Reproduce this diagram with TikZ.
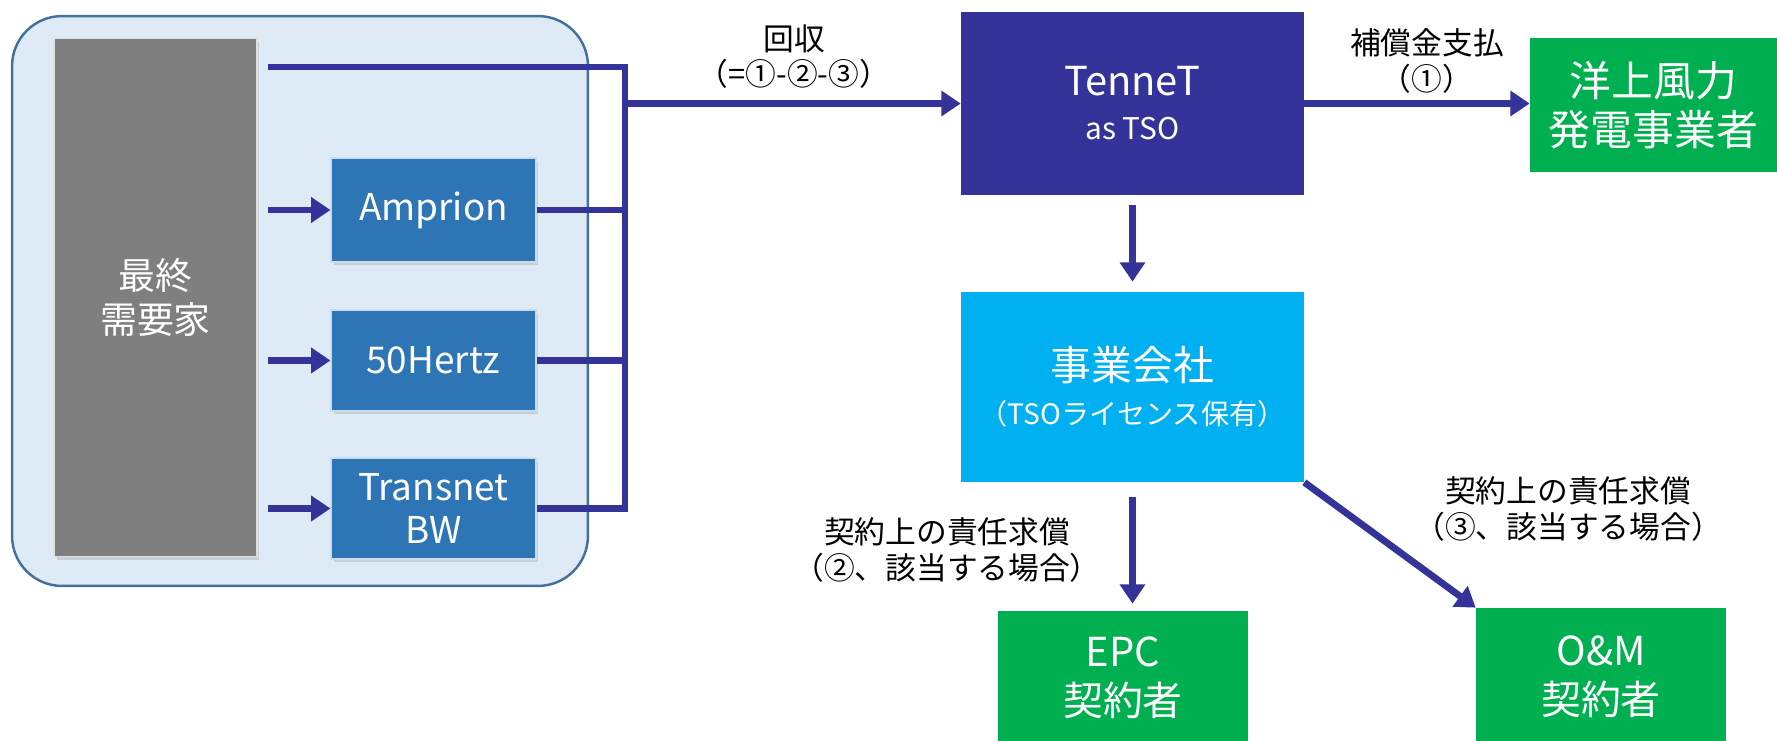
\documentclass[tikz,border=0pt]{standalone}
\usepackage{fontspec}
\setmainfont{Noto Sans CJK JP}
\usepackage{tikz}
\usetikzlibrary{positioning,arrows.meta,shadows,calc}

\definecolor{framefill}{RGB}{222,235,247}
\definecolor{frameline}{RGB}{65,113,156}
\definecolor{tsoblue}{RGB}{46,117,182}
\definecolor{flowblue}{RGB}{51,51,153}
\definecolor{spvcyan}{RGB}{0,176,240}
\definecolor{contgreen}{RGB}{0,176,80}
\definecolor{demandgray}{RGB}{127,127,127}

\tikzset{
  box/.style={fill=#1, text=white, align=center, inner sep=0pt},
  shadowbox/.style={box=#1, draw=white!75!#1, line width=0.6pt,
    drop shadow={shadow xshift=0.05cm, shadow yshift=-0.07cm, opacity=0.25}},
  flow/.style={draw=flowblue, line width=3.9pt},
  flowarr/.style={flow, -{Triangle[length=11pt,width=14pt]}},
  lbl/.style={align=center, font=\fontsize{17.5}{20}\selectfont},
}

\begin{document}
\begin{tikzpicture}[x=0.02cm,y=-0.02cm]
\useasboundingbox (0,0) rectangle (1777,740);

\node[draw=frameline, line width=1.4pt, fill=framefill, rounded corners=1cm,
  minimum width=11.52cm, minimum height=11.4cm] (frame) at (300,301) {};

\node[shadowbox=demandgray, minimum width=4.06cm, minimum height=10.38cm,
  font=\fontsize{21}{25}\selectfont] (demand) at (155.5,297.5) {最終\\需要家};
\node[shadowbox=tsoblue, minimum width=4.1cm, minimum height=2.08cm,
  font=\fontsize{21}{25}\selectfont] (amprion) at (433.5,210) {Amprion};
\node[shadowbox=tsoblue, minimum width=4.1cm, minimum height=2.02cm,
  font=\fontsize{21}{25}\selectfont] (hertz) at (433.5,360.5) {50Hertz};
\node[shadowbox=tsoblue, minimum width=4.1cm, minimum height=2.02cm,
  font=\fontsize{21}{25}\selectfont] (transnet) at (433.5,508.5) {Transnet\\BW};

\node[box=flowblue, minimum width=6.86cm, minimum height=3.66cm,
  font=\fontsize{17}{25}\selectfont] (tennet) at (1132.5,103.5)
  {{\fontsize{22.7}{25}\selectfont TenneT}\\as TSO};
\node[box=spvcyan, minimum width=6.86cm, minimum height=3.8cm,
  font=\fontsize{16}{25}\selectfont] (spv) at (1132.5,387)
  {{\fontsize{23.2}{25}\selectfont 事業会社}\\（TSOライセンス保有）};
\node[box=contgreen, minimum width=4.94cm, minimum height=2.68cm,
  font=\fontsize{23.8}{28}\selectfont] (owf) at (1653.5,105) {洋上風力\\発電事業者};
\node[box=contgreen, minimum width=5cm, minimum height=2.68cm,
  font=\fontsize{22.7}{28}\selectfont] (epc) at (1123,678) {EPC\\契約者};
\node[box=contgreen, minimum width=5cm, minimum height=2.76cm,
  font=\fontsize{22.7}{28}\selectfont] (om) at (1601,677) {O\&M\\契約者};

\coordinate (bustop) at (625,67);
\coordinate (busbot) at (bustop |- transnet.east);
\coordinate (busout) at (bustop |- tennet.west);

\foreach \t in {amprion,hertz,transnet}
  \draw[flowarr] ($(demand.east |- \t.west)+(10,0)$) -- (\t.west);

\draw[flow] ($(demand.east |- bustop)+(10,0)$) -- (bustop) -- (busbot) -- (transnet.east);
\draw[flow] (amprion.east) -- (amprion.east -| bustop);
\draw[flow] (hertz.east) -- (hertz.east -| bustop);
\draw[flowarr] (busout) -- (tennet.west);

\draw[flowarr] (tennet.east) -- (tennet.east -| owf.west);
\draw[flowarr, shorten <=0.2cm, shorten >=0.2cm] (tennet.south) -- (spv.north);
\draw[flowarr, shorten <=0.3cm, shorten >=0.14cm] (spv.south) -- (spv.south |- epc.north);
\draw[flowarr] (spv.south east) -- (om.north west);

\node[lbl] (lblcollect) at (794,57) {回収\\（=①-②-③）};
\node[lbl] (lblpay) at (1427,61) {補償金支払\\（①）};
\node[lbl] (lblepc) at (947,550) {契約上の責任求償\\（②、該当する場合）};
\node[lbl] (lblom) at (1568,509) {契約上の責任求償\\（③、該当する場合）};
\end{tikzpicture}
\end{document}
